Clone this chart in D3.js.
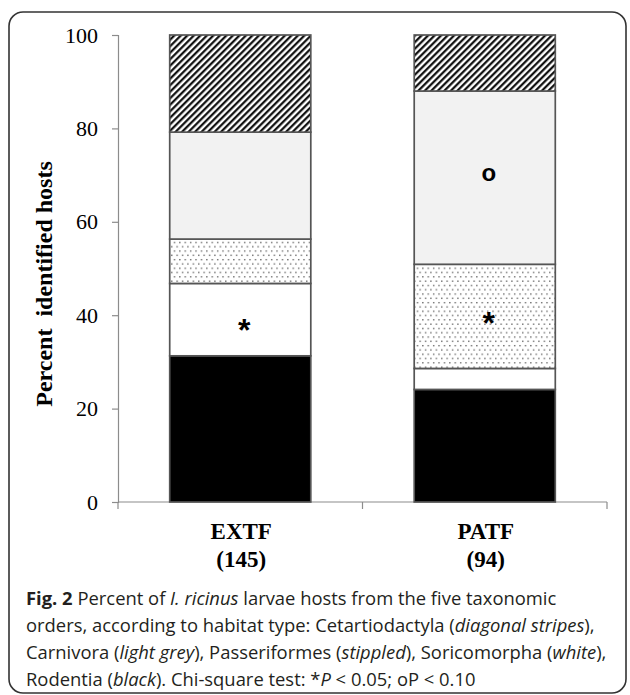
<!DOCTYPE html>
<html><head><meta charset="utf-8">
<script src="https://cdn.jsdelivr.net/npm/d3@7"></script>
<style>
html,body{margin:0;padding:0;background:#fff;}
svg{display:block;}
</style></head>
<body>
<script>
// ---- data ----
const categories = ["EXTF", "PATF"];
const sampleSizes = ["(145)", "(94)"];
const seriesNames = ["Rodentia", "Soricomorpha", "Passeriformes", "Carnivora", "Cetartiodactyla"];
const rodentia        = [31.3, 24.1];
const soricomorpha    = [15.5, 4.5];
const passeriformes   = [9.5, 22.3];
const carnivora       = [22.9, 37.1];
const cetartiodactyla = [20.8, 12.0];
const yTicks = [0, 20, 40, 60, 80, 100];
const marks = [
  {cat: "EXTF", value: 39.4, symbol: "*"},
  {cat: "PATF", value: 40.9, symbol: "*"},
  {cat: "PATF", value: 70.5, symbol: "o"}
];

const W = 630, H = 695;
const svg = d3.select("body").append("svg").attr("width", W).attr("height", H);
const defs = svg.append("defs");

// patterns
const hatch = defs.append("pattern").attr("id", "hatch").attr("patternUnits", "userSpaceOnUse")
  .attr("width", 4.6).attr("height", 10).attr("patternTransform", "rotate(45)");
hatch.append("rect").attr("width", 4.6).attr("height", 10).attr("fill", "#fff");
hatch.append("line").attr("x1", 1.2).attr("x2", 1.2).attr("y1", 0).attr("y2", 10)
  .attr("stroke", "#000").attr("stroke-width", 2.1);

const stip = defs.append("pattern").attr("id", "stipple").attr("patternUnits", "userSpaceOnUse")
  .attr("width", 5.4).attr("height", 8.6);
stip.append("rect").attr("width", 5.4).attr("height", 8.6).attr("fill", "#fff");
stip.append("rect").attr("x", 1).attr("y", 1).attr("width", 1.3).attr("height", 1.3).attr("fill", "#555");
stip.append("rect").attr("x", 3.7).attr("y", 5.3).attr("width", 1.3).attr("height", 1.3).attr("fill", "#555");

const fills = {
  Rodentia: "#000",
  Soricomorpha: "#fff",
  Passeriformes: "url(#stipple)",
  Carnivora: "#f2f2f2",
  Cetartiodactyla: "url(#hatch)"
};

// frame
svg.append("rect").attr("x", 9).attr("y", 12).attr("width", 617).attr("height", 681)
  .attr("rx", 14).attr("fill", "none").attr("stroke", "#333").attr("stroke-width", 1.6);

// scales
const x = d3.scaleBand().domain(categories).range([118, 607]).padding(0);
const y = d3.scaleLinear().domain([0, 100]).range([502, 35]);
const barW = x.bandwidth() * 0.577;

const table = categories.map((c, i) => ({
  cat: c,
  Rodentia: rodentia[i], Soricomorpha: soricomorpha[i], Passeriformes: passeriformes[i],
  Carnivora: carnivora[i], Cetartiodactyla: cetartiodactyla[i]
}));
const stacked = d3.stack().keys(seriesNames)(table);

// axes
const yAxis = svg.append("g").attr("transform", "translate(118,0)")
  .call(d3.axisLeft(y).tickValues(yTicks).tickSize(6).tickPadding(14));
yAxis.select(".domain").attr("stroke", "#8c8c8c").attr("stroke-width", 1.2);
yAxis.selectAll(".tick line").attr("stroke", "#8c8c8c").attr("stroke-width", 1.2);
yAxis.selectAll("text").attr("font-family", "Liberation Serif").attr("font-size", 22).attr("fill", "#000");

// x axis line with ticks at band boundaries
const xg = svg.append("g");
xg.append("line").attr("x1", 118).attr("x2", 607).attr("y1", y(0)).attr("y2", y(0))
  .attr("stroke", "#8c8c8c").attr("stroke-width", 1.2);
const bounds = categories.map(c => x(c) + x.bandwidth()).concat([x(categories[0])]);
xg.selectAll("line.tk").data(bounds).join("line").attr("class", "tk")
  .attr("x1", d => d).attr("x2", d => d).attr("y1", y(0)).attr("y2", y(0) + 7)
  .attr("stroke", "#8c8c8c").attr("stroke-width", 1.2);

// bars
svg.append("g").selectAll("g").data(stacked).join("g")
  .attr("fill", d => fills[d.key])
  .selectAll("rect").data(d => d).join("rect")
  .attr("x", d => x(d.data.cat) + (x.bandwidth() - barW) / 2)
  .attr("width", barW)
  .attr("y", d => y(d[1]))
  .attr("height", d => y(d[0]) - y(d[1]))
  .attr("stroke", "#555").attr("stroke-width", 1.7);

// category labels
const lab = svg.append("g").attr("font-family", "Liberation Serif").attr("font-weight", "bold")
  .attr("font-size", 23).attr("text-anchor", "middle");
lab.selectAll("text.c").data(categories).join("text").attr("class", "c")
  .attr("x", d => x(d) + x.bandwidth() / 2 + 1).attr("y", 539).text(d => d);
lab.selectAll("text.n").data(sampleSizes).join("text").attr("class", "n")
  .attr("x", (d, i) => x(categories[i]) + x.bandwidth() / 2 + 1).attr("y", 567).text(d => d);

// y-axis title
svg.append("text").attr("transform", "translate(52,284) rotate(-90)")
  .attr("text-anchor", "middle").attr("font-family", "Liberation Serif").attr("font-weight", "bold")
  .attr("font-size", 24).style("white-space", "pre").text("Percent  identified hosts");

// significance marks
svg.append("g").selectAll("text").data(marks).join("text")
  .attr("x", d => x(d.cat) + x.bandwidth() / 2 + 4)
  .attr("y", d => y(d.value))
  .attr("text-anchor", "middle").attr("dominant-baseline", d => d.symbol === "*" ? "hanging" : "central")
  .attr("font-family", "Liberation Sans").attr("font-weight", "bold")
  .attr("font-size", d => d.symbol === "*" ? 32 : 24)
  .text(d => d.symbol);

// caption
const cap = svg.append("text").attr("font-family", "Open Sans").attr("font-size", 18.4).attr("fill", "#231f20");
const lines = [
  [["Fig. 2", "b"], [" Percent of ", ""], ["I. ricinus", "i"], [" larvae hosts from the five taxonomic", ""]],
  [["orders, according to habitat type: Cetartiodactyla (", ""], ["diagonal stripes", "i"], ["),", ""]],
  [["Carnivora (", ""], ["light grey", "i"], ["), Passeriformes (", ""], ["stippled", "i"], ["), Soricomorpha (", ""], ["white", "i"], ["),", ""]],
  [["Rodentia (", ""], ["black", "i"], ["). Chi-square test: *", ""], ["P", "i"], [" < 0.05; oP < 0.10", ""]]
];
lines.forEach((ln, li) => {
  const t = cap.append("tspan").attr("x", 26).attr("y", 605 + li * 27);
  ln.forEach((seg, si) => {
    const s = si === 0 ? t : cap.append("tspan");
    s.text(seg[0]);
    if (seg[1] === "b") s.attr("font-weight", "bold");
    if (seg[1] === "i") s.attr("font-style", "italic");
  });
});
</script>
</body></html>
